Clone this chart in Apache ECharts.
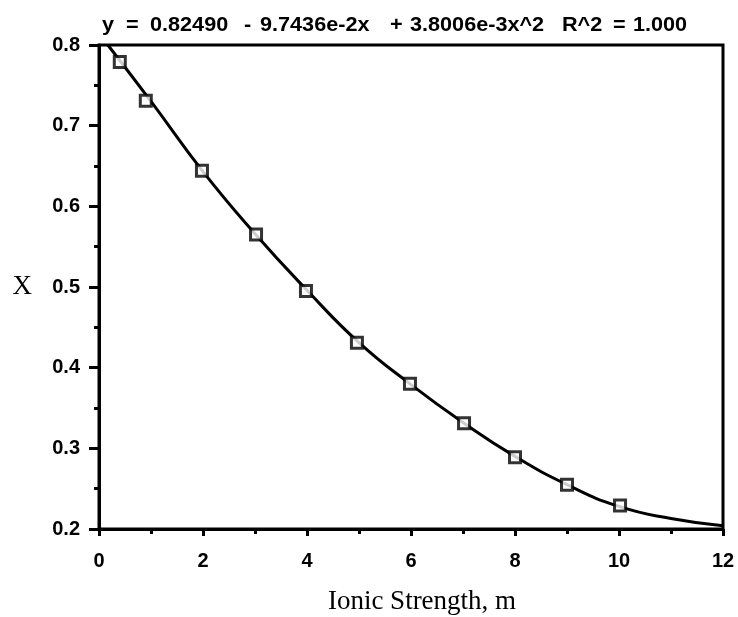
<!DOCTYPE html>
<html>
<head>
<meta charset="utf-8">
<script src="https://cdn.jsdelivr.net/npm/echarts@6/dist/echarts.min.js"></script>
<style>
  html, body { margin: 0; padding: 0; background: #fff; }
  #box { width: 738px; height: 617px; }
</style>
</head>
<body>
<div id="box"></div>
<script>
// measured points (squares)
var pointX = [0.40, 0.90, 1.98, 3.02, 3.98, 4.96, 5.98, 7.02, 8.00, 9.00, 10.02];
var pointY = [0.779, 0.731, 0.644, 0.565, 0.495, 0.431, 0.380, 0.331, 0.289, 0.255, 0.229];
// fitted curve
var curveX = [0.17, 1, 2, 3, 4, 5, 6, 7, 8, 9, 10, 11, 12];
var curveY = [0.800, 0.730, 0.643, 0.566, 0.496, 0.431, 0.379, 0.332, 0.290, 0.255, 0.228, 0.213, 0.204];
var xTicks = [0, 2, 4, 6, 8, 10, 12];
var yTicks = [0.2, 0.3, 0.4, 0.5, 0.6, 0.7, 0.8];
// fit equation shown above the plot, in pieces
var titleParts = ['y', '=', '0.82490', '-', '9.7436e-2x', '+', '3.8006e-3x^2', 'R^2', '=', '1.000'];
var titleLeft = [102, 126, 150, 244, 260, 390, 410, 562, 613, 633];

var chart = echarts.init(document.getElementById('box'));
var sansBold = { fill: '#000', fontFamily: 'Liberation Sans, Arial', fontWeight: 'bold', fontSize: 21 };
var tickFont = { color: '#000', fontFamily: 'Liberation Sans, Arial', fontWeight: 'bold', fontSize: 20 };

var option = {
  animation: false,
  backgroundColor: '#fff',
  graphic: titleParts.map(function (t, i) {
    return {
      type: 'text', left: titleLeft[i], top: 15, scaleX: 1.03,
      style: Object.assign({ text: t }, sansBold)
    };
  }),
  grid: {
    left: 99, right: 15, top: 45, bottom: 88,
    outerBoundsMode: 'none',
    show: true, borderColor: '#000', borderWidth: 3, backgroundColor: 'transparent'
  },
  xAxis: {
    type: 'value',
    min: xTicks[0], max: xTicks[xTicks.length - 1], interval: 2,
    name: 'Ionic Strength, m',
    nameLocation: 'middle',
    nameGap: 59,
    nameTextStyle: { color: '#000', fontFamily: 'Liberation Serif, Times New Roman', fontSize: 27, padding: [0, 0, 0, 22] },
    axisLine: { lineStyle: { color: '#000', width: 3 } },
    axisTick: { show: true, length: 7, lineStyle: { color: '#000', width: 3 } },
    minorTick: { show: true, splitNumber: 2, length: 5, lineStyle: { color: '#000', width: 3 } },
    splitLine: { show: false },
    axisLabel: Object.assign({ margin: 22 }, tickFont)
  },
  yAxis: {
    type: 'value',
    min: yTicks[0], max: yTicks[yTicks.length - 1], interval: 0.1,
    name: 'X',
    nameLocation: 'middle',
    nameRotate: 0,
    nameGap: 67,
    nameTextStyle: { color: '#000', fontFamily: 'Liberation Serif, Times New Roman', fontSize: 27 },
    axisLine: { lineStyle: { color: '#000', width: 3 } },
    axisTick: { show: true, length: 10, lineStyle: { color: '#000', width: 3 } },
    minorTick: { show: true, splitNumber: 2, length: 5, lineStyle: { color: '#000', width: 3 } },
    splitLine: { show: false },
    axisLabel: Object.assign({ margin: 19, formatter: function (v) { return v.toFixed(1); } }, tickFont)
  },
  series: [
    {
      type: 'line',
      smooth: true,
      symbol: 'none',
      clip: true,
      lineStyle: { color: '#000', width: 3 },
      data: curveX.map(function (x, i) { return [x, curveY[i]]; }),
      z: 2
    },
    {
      type: 'scatter',
      symbol: 'rect',
      symbolSize: 11,
      itemStyle: { color: '#fff', borderColor: '#000', borderWidth: 3 },
      data: pointX.map(function (x, i) { return [x, pointY[i]]; }),
      z: 3
    }
  ]
};
chart.setOption(option);
</script>
</body>
</html>
